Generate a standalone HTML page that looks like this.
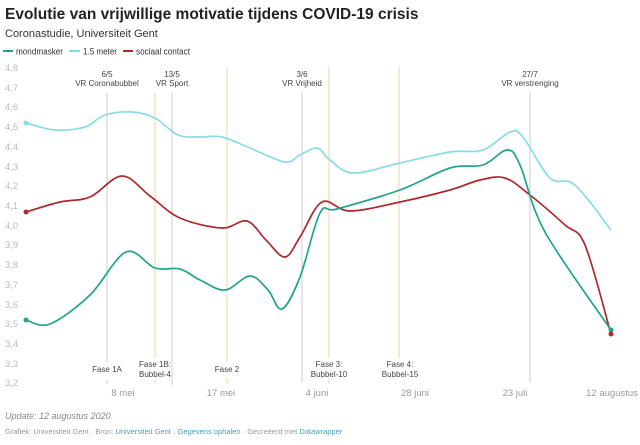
<!DOCTYPE html>
<html><head><meta charset="utf-8"><style>
body{margin:0;background:#fff;width:640px;height:440px;overflow:hidden;font-family:"Liberation Sans",sans-serif}
</style></head><body>
<svg width="640" height="440" xmlns="http://www.w3.org/2000/svg" font-family="Liberation Sans, sans-serif">
<text x="5" y="19" font-size="15.5" font-weight="bold" fill="#222">Evolutie van vrijwillige motivatie tijdens COVID-19 crisis</text>
<text x="5" y="37" font-size="11" fill="#333">Coronastudie, Universiteit Gent</text>
<g font-size="9" fill="#333">
<rect x="3" y="50" width="10" height="2" fill="#1fa58a"/><text x="16" y="54.5" textLength="47" lengthAdjust="spacingAndGlyphs">mondmasker</text>
<rect x="69" y="50" width="11" height="2" fill="#85dde8"/><text x="83" y="54.5" textLength="34" lengthAdjust="spacingAndGlyphs">1.5 meter</text>
<rect x="123" y="50" width="10" height="2" fill="#b0282c"/><text x="136" y="54.5" textLength="54" lengthAdjust="spacingAndGlyphs">sociaal contact</text>
</g>
<g font-size="9.5" fill="#bbb">
<text x="5" y="71">4,8</text><text x="5" y="91">4,7</text><text x="5" y="110">4,6</text><text x="5" y="130">4,5</text><text x="5" y="150">4,4</text><text x="5" y="170">4,3</text><text x="5" y="189">4,2</text><text x="5" y="209">4,1</text><text x="5" y="229">4,0</text><text x="5" y="248">3,9</text><text x="5" y="268">3,8</text><text x="5" y="288">3,7</text><text x="5" y="308">3,6</text><text x="5" y="327">3,5</text><text x="5" y="347">3,4</text><text x="5" y="367">3,3</text><text x="5" y="386">3,2</text>
</g>
<g stroke-width="1">
<line x1="107" y1="93" x2="107" y2="362" stroke="#ccc"/>
<line x1="172" y1="93" x2="172" y2="385" stroke="#ccc"/>
<line x1="302" y1="93" x2="302" y2="382" stroke="#ccc"/>
<line x1="530" y1="93" x2="530" y2="382" stroke="#ccc"/>
<line x1="155" y1="93" x2="155" y2="358" stroke="#f3d3a6"/>
<line x1="227" y1="67" x2="227" y2="362" stroke="#f3d3a6"/>
<line x1="329" y1="67" x2="329" y2="358" stroke="#f3d3a6"/>
<line x1="399" y1="67" x2="399" y2="358" stroke="#f3d3a6"/>
<line x1="107" y1="380" x2="107" y2="384" stroke="#ccc"/>
<line x1="155" y1="380" x2="155" y2="384" stroke="#f3d3a6"/>
<line x1="227" y1="378" x2="227" y2="384" stroke="#f3d3a6"/>
<line x1="329" y1="380" x2="329" y2="384" stroke="#f3d3a6"/>
</g>
<g font-size="8" fill="#444" text-anchor="middle">
<text x="107" y="77">6/5</text><text x="107" y="86">VR Coronabubbel</text>
<text x="172" y="77">13/5</text><text x="172" y="86">VR Sport</text>
<text x="302" y="77">3/6</text><text x="302" y="86">VR Vrijheid</text>
<text x="530" y="77">27/7</text><text x="530" y="86">VR verstrenging</text>
<text x="107" y="372">Fase 1A</text>
<text x="155" y="367">Fase 1B:</text><text x="155" y="377">Bubbel-4</text>
<text x="227" y="372">Fase 2</text>
<text x="329" y="367">Fase 3:</text><text x="329" y="377">Bubbel-10</text>
<text x="400" y="367">Fase 4:</text><text x="400" y="377">Bubbel-15</text>
</g>
<g font-size="9.5" fill="#999" text-anchor="middle">
<text x="123" y="396">8 mei</text><text x="221" y="396">17 mei</text><text x="317" y="396">4 juni</text><text x="415" y="396">28 juni</text><text x="515" y="396">23 juli</text><text x="612" y="396">12 augustus</text>
</g>
<path id="cy" fill="none" stroke="#85dde8" stroke-width="1.7"/>
<path id="rd" fill="none" stroke="#b0282c" stroke-width="1.7"/>
<path id="gr" fill="none" stroke="#1fa58a" stroke-width="1.7"/>
<circle cx="26" cy="123" r="2.5" fill="#85dde8"/>
<circle cx="26" cy="212" r="2.5" fill="#b0282c"/>
<circle cx="26" cy="320" r="2.5" fill="#1fa58a"/>
<circle cx="611" cy="330" r="2.5" fill="#1fa58a"/>
<circle cx="611" cy="334" r="2.5" fill="#b0282c"/>
<text x="5" y="419" font-size="9" font-style="italic" fill="#888">Update: 12 augustus 2020</text>
<text x="5" y="434" font-size="7.5" fill="#999">Grafiek: Universiteit Gent · Bron: <tspan fill="#3ba6b8">Universiteit Gent</tspan> · <tspan fill="#3ba6b8">Gegevens ophalen</tspan> · Gecreëerd met <tspan fill="#3ba6b8">Datawrapper</tspan></text>
</svg>
<script>
function cr(p){let d="M"+p[0][0]+","+p[0][1];for(let i=0;i<p.length-1;i++){const a=p[Math.max(0,i-1)],b=p[i],c=p[i+1],e=p[Math.min(p.length-1,i+2)];const t=6;d+=" C"+(b[0]+(c[0]-a[0])/t)+","+(b[1]+(c[1]-a[1])/t)+" "+(c[0]-(e[0]-b[0])/t)+","+(c[1]-(e[1]-b[1])/t)+" "+c[0]+","+c[1];}return d;}
document.getElementById("cy").setAttribute("d",cr([[26,123],[55,130],[85,127],[105,115],[132,112],[155,118],[178,135],[200,137],[222,137],[250,148],[285,162],[300,155],[317,148],[330,160],[353,173],[400,163],[450,152],[483,150],[510,132],[523,137],[550,178],[575,185],[611,230]]));
document.getElementById("rd").setAttribute("d",cr([[26,212],[60,202],[90,197],[122,176],[150,196],[180,218],[222,228],[247,221],[266,240],[285,257],[300,237],[322,202],[350,211],[400,202],[450,190],[480,180],[505,178],[530,195],[565,225],[585,245],[611,334]]));
document.getElementById("gr").setAttribute("d",cr([[26,320],[50,324],[90,295],[126,252],[155,268],[180,269],[200,280],[225,290],[250,276],[268,290],[282,309],[300,277],[320,213],[337,209],[400,190],[450,168],[483,165],[507,150],[520,165],[545,232],[611,330]]));
</script>
</body></html>
